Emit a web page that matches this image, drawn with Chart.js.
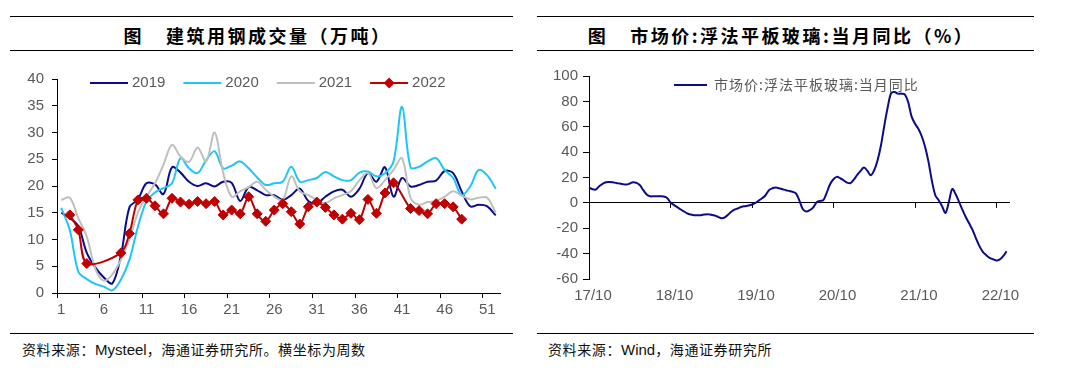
<!DOCTYPE html>
<html>
<head>
<meta charset="utf-8">
<script src="https://cdn.jsdelivr.net/npm/chart.js@4.4.1/dist/chart.umd.min.js"></script>
<style>
body { margin: 0; background: #fff; width: 1067px; height: 376px; position: relative; overflow: hidden; font-family: "Liberation Sans", "Noto Sans CJK SC", sans-serif; }
.rule { position: absolute; height: 0; border-top: 1.3px solid #000; }
.title { position: absolute; top: 23px; height: 24px; line-height: 24px; text-align: center; font-family: "Noto Sans CJK SC"; font-weight: 700; font-size: 18px; letter-spacing: 2.5px; color: #000; white-space: nowrap; }
.title .fig { margin-right: 22px; }
.src { position: absolute; top: 341px; font-family: "Noto Sans CJK SC"; font-size: 14px; letter-spacing: 0.6px; line-height: 16px; color: #111; white-space: nowrap; }
.src .en { font-family: "Liberation Sans"; font-size: 15px; letter-spacing: 0; }
canvas { position: absolute; }
</style>
</head>
<body>
<div class="rule" style="left:10px;width:503px;top:16px"></div>
<div class="title" style="left:0;width:515px"><span class="fig">图</span>建筑用钢成交量（万吨）</div>
<div class="rule" style="left:10px;width:503px;top:50px"></div>
<canvas id="steel" width="515" height="266" style="left:0;top:60px"></canvas>
<div class="rule" style="left:10px;width:503px;top:333px"></div>
<div class="src" style="left:22px">资料来源：<span class="en">Mysteel</span>，海通证券研究所。横坐标为周数</div>

<div class="rule" style="left:537px;width:497px;top:16px"></div>
<div class="title" style="left:530px;width:502px"><span class="fig">图</span>市场价:浮法平板玻璃:当月同比（%）</div>
<div class="rule" style="left:537px;width:497px;top:50px"></div>
<canvas id="glass" width="495" height="266" style="left:530px;top:60px"></canvas>
<div class="rule" style="left:537px;width:497px;top:333px"></div>
<div class="src" style="left:548px">资料来源：<span class="en">Wind</span>，海通证券研究所</div>

<script>
// weekly building steel sales (10k t), week 1..52
const weeks = Array.from({length: 52}, (_, i) => String(i + 1));
const sales2019 = [15.0, 14.0, 12.5, 7.5, 4.8, 2.9, 1.8, 7.0, 16.0, 17.5,
                   20.5, 20.3, 18.5, 23.5, 22.5, 20.8, 20.0, 20.5, 19.9, 20.8,
                   20.6, 17.2, 19.8, 19.2, 18.3, 18.3, 17.4, 18.3, 19.5, 17.2,
                   16.8, 18.0, 19.0, 19.3, 18.0, 19.5, 22.4, 20.8, 23.5, 18.0,
                   21.5, 19.9, 20.2, 20.8, 21.0, 22.8, 22.4, 19.0, 16.2, 16.5,
                   16.2, 14.5];
const sales2020 = [15.9, 11.8, 4.0, 2.6, 1.7, 1.2, 0.5, 2.5, 6.2, 12.4,
                   17.1, 18.8, 19.6, 20.5, 25.2, 23.3, 22.4, 24.8, 26.5, 23.3,
                   23.8, 24.6, 23.3, 21.6, 20.2, 20.5, 20.8, 23.6, 20.8, 21.1,
                   21.5, 22.6, 21.8, 21.1, 21.1, 22.5, 22.7, 21.8, 22.4, 24.6,
                   34.8, 23.5, 23.6, 24.6, 25.2, 23.0, 21.5, 18.3, 19.9, 23.0,
                   22.0, 19.5];
const sales2021 = [17.4, 17.8, 14.0, 10.5, 4.5, 2.3, 3.5, 6.2, 10.0, 15.0,
                   18.0, 20.5, 24.0, 27.7, 25.5, 24.5, 27.2, 24.6, 30.0, 22.5,
                   18.0, 19.0, 19.8, 20.8, 19.3, 18.0, 17.4, 21.8, 19.0, 18.3,
                   17.4, 16.8, 17.7, 18.3, 19.0, 21.1, 22.4, 19.6, 21.1, 23.0,
                   25.2, 17.8, 16.5, 17.0, 17.2, 18.0, 19.0, 18.2, 17.5, 17.8,
                   17.8, 15.0];
const sales2022 = [null, 14.6, 11.8, 5.5, null, null, null, 7.5, 11.1, 17.4,
                   17.7, 16.3, 14.8, 17.7, 17.0, 16.6, 17.1, 16.7, 17.1, 14.6,
                   15.5, 14.8, 18.0, 14.8, 13.4, 15.5, 16.7, 15.2, 12.9, 16.1,
                   17.0, 16.0, 14.6, 13.8, 14.9, 13.7, 17.5, 14.9, 18.7, 20.6,
                   null, 15.8, 15.4, 14.8, 16.7, 16.7, 16.1, 13.8, null, null,
                   null, null];

// float glass market price, YoY %, read at half-month steps from 17/10
const glassTicks = ['17/10', '18/10', '19/10', '20/10', '21/10', '22/10'];
const glassYoY = [12.1, 10.8, 10.5, 13.1, 15.0, 16.3, 16.5, 16.3, 15.7, 15.2,
                  14.7, 14.4, 15.2, 16.3, 15.7, 13.9, 10.0, 6.6, 5.2, 5.2,
                  5.2, 5.2, 5.0, 3.9, 0.3, -1.6, -3.4, -5.2, -6.8, -8.4,
                  -9.2, -9.7, -9.7, -9.7, -9.2, -8.9, -9.4, -10.0, -11.0, -12.1,
                  -11.5, -9.2, -6.8, -5.2, -4.2, -3.1, -2.6, -2.1, -1.3, 0,
                  1.8, 3.7, 6.0, 10.0, 11.5, 12.1, 11.5, 10.8, 10.0, 9.4,
                  8.7, 7.3, 1.6, -5.0, -6.8, -5.8, -3.7, 0.3, 1.6, 2.1,
                  7.9, 14.7, 18.6, 20.5, 19.4, 17.8, 16.0, 15.5, 18.4, 22.0,
                  25.2, 27.8, 25.2, 21.8, 25.7, 33.6, 45.4, 61.2, 75.6, 86.6,
                  87.4, 86.1, 86.1, 85.6, 79.5, 68.2, 62.5, 58.5, 52.5, 44.1,
                  32.3, 17.3, 6.0, 2.1, -2.6, -7.9, 0.8, 11.0, 6.8, 0.8,
                  -5.5, -11.3, -16.3, -21.5, -28.1, -34.1, -38.6, -41.2, -43.3, -44.4,
                  -45.4, -44.6, -42.0, -38.1];
const halfMonths = Array.from({length: 125}, (_, j) => {
    const m = 9 + Math.floor(j / 2);
    const yy = 17 + Math.floor(m / 12);
    const mm = String(m % 12 + 1).padStart(2, '0');
    return yy + '/' + mm + (j % 2 ? '下' : '上');
});

const tickFont = {family: 'Liberation Sans', size: 15};
const tickGray = '#595959';
const clear = 'rgba(0,0,0,0)';

// legend drawn inside the plot area, in one row
const legendRow = {
    id: 'legendRow',
    afterDraw(chart, args, opts) {
        const ctx = chart.ctx;
        let x = chart.chartArea.left + opts.x;
        const y = chart.chartArea.top + opts.y;
        ctx.save();
        ctx.font = opts.font;
        ctx.textBaseline = 'middle';
        if (opts.spacing) ctx.letterSpacing = opts.spacing;
        chart.data.datasets.forEach(ds => {
            ctx.strokeStyle = ds.borderColor;
            ctx.lineWidth = ds.borderWidth;
            ctx.beginPath();
            ctx.moveTo(x, y);
            ctx.lineTo(x + opts.len, y);
            ctx.stroke();
            if (ds.pointRadius > 0) {
                const cx = x + opts.len / 2, r = ds.pointRadius + 0.5;
                ctx.fillStyle = ds.backgroundColor;
                ctx.beginPath();
                ctx.moveTo(cx, y - r);
                ctx.lineTo(cx + r, y);
                ctx.lineTo(cx, y + r);
                ctx.lineTo(cx - r, y);
                ctx.closePath();
                ctx.fill();
            }
            x += opts.len + opts.gap;
            ctx.fillStyle = opts.color;
            ctx.fillText(ds.label, x, y);
            x += ctx.measureText(ds.label).width + opts.after;
        });
        ctx.restore();
    }
};

// tick marks hanging from the zero line
const zeroTicks = {
    id: 'zeroTicks',
    beforeDatasetsDraw(chart, args, opts) {
        const {ctx, scales: {x, y}} = chart;
        const y0 = y.getPixelForValue(0);
        ctx.save();
        ctx.strokeStyle = '#000';
        ctx.lineWidth = 1;
        ctx.beginPath();
        for (let i = 0; i < chart.data.labels.length; i += opts.every) {
            const px = Math.round(x.getPixelForValue(i)) + 0.5;
            ctx.moveTo(px, y0);
            ctx.lineTo(px, y0 + opts.len);
        }
        ctx.stroke();
        ctx.restore();
    }
};

new Chart(document.getElementById('steel'), {
    type: 'line',
    data: {
        labels: weeks,
        datasets: [
            {label: '2019', data: sales2019, borderColor: '#0c0c8a', borderWidth: 2, pointRadius: 0, tension: 0.35, order: 3},
            {label: '2020', data: sales2020, borderColor: '#1ec6f3', borderWidth: 2, pointRadius: 0, tension: 0.35, order: 2},
            {label: '2021', data: sales2021, borderColor: '#bfbfbf', borderWidth: 2, pointRadius: 0, tension: 0.35, order: 1},
            {label: '2022', data: sales2022, borderColor: '#c00000', backgroundColor: '#c00000', borderWidth: 2,
             pointStyle: 'rectRot', pointRadius: 5, pointBorderWidth: 1, spanGaps: true, tension: 0.3, order: 0}
        ]
    },
    options: {
        responsive: false,
        animation: false,
        events: [],
        layout: {padding: {top: 19, right: 15, left: 0, bottom: 0}},
        plugins: {
            legend: {display: false},
            tooltip: {enabled: false},
            legendRow: {x: 33, y: 4, len: 38, gap: 4, after: 18, font: '15px "Liberation Sans"', color: tickGray}
        },
        scales: {
            x: {
                offset: true,
                grid: {offset: true, drawOnChartArea: false, tickLength: 5,
                       tickColor: c => c.index % 5 === 0 ? '#000' : clear},
                border: {color: '#000', width: 1},
                ticks: {
                    autoSkip: false, maxRotation: 0, padding: 3, color: tickGray, font: tickFont,
                    callback(v, i) { return i % 5 === 0 ? this.getLabelForValue(v) : ''; }
                },
                afterFit(s) { s.height = 33; }
            },
            y: {
                min: 0, max: 40,
                ticks: {stepSize: 5, padding: 8, color: tickGray, font: tickFont},
                grid: {drawOnChartArea: false, tickLength: 5, tickColor: '#000'},
                border: {color: '#000', width: 1},
                afterFit(s) { s.width = 57; }
            }
        }
    },
    plugins: [legendRow]
});

new Chart(document.getElementById('glass'), {
    type: 'line',
    data: {
        labels: halfMonths,
        datasets: [
            {label: '市场价:浮法平板玻璃:当月同比', data: glassYoY, borderColor: '#0c0c8a', borderWidth: 2, pointRadius: 0, tension: 0.35}
        ]
    },
    options: {
        responsive: false,
        animation: false,
        events: [],
        layout: {padding: {top: 16, right: 15, left: 0, bottom: 0}},
        plugins: {
            legend: {display: false},
            tooltip: {enabled: false},
            legendRow: {x: 85, y: 9, len: 33, gap: 7, after: 0, font: '14px "Noto Sans CJK SC"', spacing: '1px', color: tickGray},
            zeroTicks: {every: 24, len: 5}
        },
        scales: {
            x: {
                offset: false,
                grid: {display: false, drawTicks: false},
                border: {display: false},
                ticks: {
                    autoSkip: false, maxRotation: 0, padding: 8, labelOffset: 4, color: tickGray, font: tickFont,
                    callback(v, i) { return i % 24 === 0 ? glassTicks[i / 24] : ''; }
                },
                afterFit(s) { s.height = 47; }
            },
            y: {
                min: -60, max: 100,
                ticks: {stepSize: 20, padding: 5, color: tickGray, font: tickFont},
                grid: {color: c => c.tick && c.tick.value === 0 ? '#000' : clear, tickColor: '#000', tickLength: 6},
                border: {color: '#000', width: 1},
                afterFit(s) { s.width = 59; }
            }
        }
    },
    plugins: [legendRow, zeroTicks]
});
</script>
</body>
</html>
